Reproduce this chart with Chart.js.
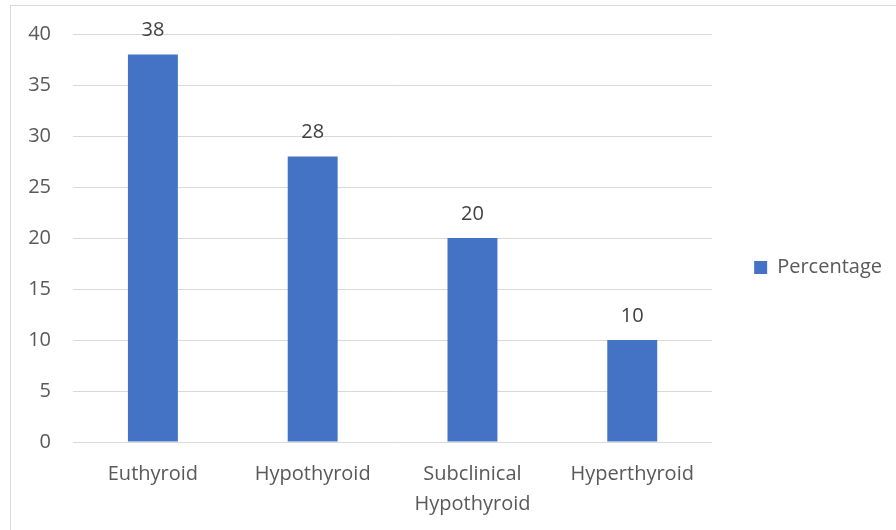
<!DOCTYPE html>
<html>
<head>
<meta charset="utf-8">
<script src="https://cdn.jsdelivr.net/npm/chart.js@4"></script>
<style>
  html, body { margin: 0; padding: 0; background: #fff; }
  #wrap { width: 896px; height: 530px; position: relative; }
</style>
</head>
<body>
<div id="wrap"><canvas id="thyroidChart"></canvas></div>
<script>
// values
const categories = ['Euthyroid', 'Hypothyroid', ['Subclinical', 'Hypothyroid'], 'Hyperthyroid'];
const percentage = [38, 28, 20, 10];
const yTicks = { min: 0, max: 40, step: 5 };

const fontFamily = "'Open Sans', 'Noto Sans', sans-serif";
const fontSize = 20;
const textColor = '#595959';

// value labels above each bar
const valueLabels = {
    id: 'valueLabels',
    afterDatasetsDraw: function(chart) {
        const ctx = chart.ctx;
        const meta = chart.getDatasetMeta(0);
        ctx.save();
        ctx.font = fontSize + 'px ' + fontFamily;
        ctx.fillStyle = '#404040';
        ctx.textAlign = 'center';
        ctx.textBaseline = 'bottom';
        meta.data.forEach(function(bar, i) {
            ctx.fillText(chart.data.datasets[0].data[i], bar.x, bar.y - 14);
        });
        ctx.restore();
    }
};

// thin frame like the spreadsheet chart border
const frame = {
    id: 'frame',
    beforeDraw: function(chart) {
        const ctx = chart.ctx;
        ctx.save();
        ctx.strokeStyle = '#d9d9d9';
        ctx.lineWidth = 1;
        ctx.strokeRect(10.5, 5.5, 1000, 1000);
        ctx.restore();
    }
};

new Chart(document.getElementById('thyroidChart'), {
    type: 'bar',
    data: {
        labels: categories,
        datasets: [{
            label: 'Percentage',
            data: percentage,
            backgroundColor: '#4472C4',
            borderWidth: 0,
            categoryPercentage: 1,
            barPercentage: 0.3125
        }]
    },
    options: {
        responsive: true,
        maintainAspectRatio: false,
        animation: false,
        layout: {
            padding: { top: 5, left: 0, right: 4, bottom: 0 }
        },
        scales: {
            x: {
                grid: { display: false, drawTicks: false },
                border: { display: false },
                ticks: {
                    color: textColor,
                    padding: 17,
                    maxRotation: 0,
                    autoSkip: false,
                    font: { family: fontFamily, size: fontSize, lineHeight: 1.5 }
                },
                afterFit: function(scale) { scale.height = 88; }
            },
            // empty spacer so the plot starts lower while the legend stays centred on the whole canvas
            xTop: {
                type: 'linear',
                position: 'top',
                grid: { display: false, drawTicks: false },
                border: { display: false },
                ticks: { display: false },
                afterFit: function(scale) { scale.height = 29; }
            },
            y: {
                min: yTicks.min,
                max: yTicks.max,
                grid: { color: '#d9d9d9', lineWidth: 1, drawTicks: false },
                border: { display: false },
                ticks: {
                    stepSize: yTicks.step,
                    color: textColor,
                    padding: 22,
                    font: { family: fontFamily, size: fontSize }
                },
                afterFit: function(scale) { scale.width = 73; }
            }
        },
        plugins: {
            legend: {
                display: true,
                position: 'right',
                labels: {
                    boxWidth: 13,
                    boxHeight: 13,
                    padding: 42,
                    color: textColor,
                    font: { family: fontFamily, size: fontSize }
                }
            },
            tooltip: { enabled: false }
        }
    },
    plugins: [valueLabels, frame]
});
</script>
</body>
</html>
